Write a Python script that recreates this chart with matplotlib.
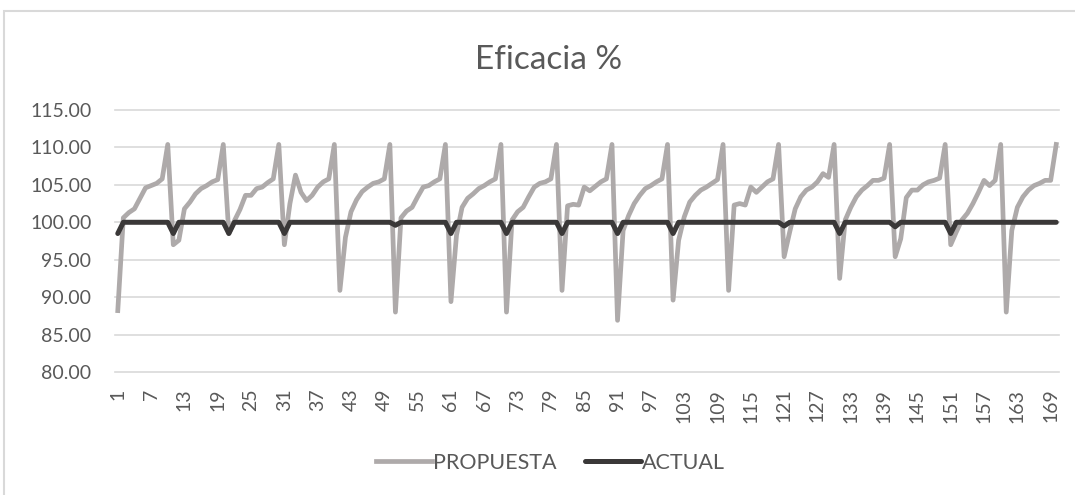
import matplotlib.pyplot as plt
import numpy as np
from matplotlib.patches import Rectangle

# Eficacia por periodo: propuesta vs situación actual
periodos = np.arange(1, 171)

propuesta = [
    88.2, 100.6, 101.3, 101.8, 103.2, 104.6, 104.9, 105.2, 105.8, 110.4,
    97.0, 97.6, 101.8, 102.7, 103.8, 104.5, 104.9, 105.4, 105.7, 110.4,
    98.5, 100.2, 101.7, 103.6, 103.6, 104.5, 104.7, 105.3, 105.8, 110.4,
    97.0, 102.5, 106.3, 104.0, 102.9, 103.6, 104.7, 105.4, 105.8, 110.4,
    90.9, 98.0, 101.4, 103.0, 104.1, 104.7, 105.2, 105.4, 105.8, 110.4,
    88.0, 100.6, 101.5, 102.0, 103.4, 104.7, 104.9, 105.4, 105.8, 110.4,
    89.4, 98.3, 102.0, 103.2, 103.8, 104.5, 104.9, 105.4, 105.8, 110.4,
    88.0, 100.3, 101.4, 102.0, 103.4, 104.7, 105.2, 105.4, 105.8, 110.4,
    90.9, 102.2, 102.4, 102.3, 104.7, 104.2, 104.8, 105.4, 105.8, 110.4,
    86.9, 98.9, 100.9, 102.5, 103.6, 104.5, 104.9, 105.4, 105.8, 110.4,
    89.6, 97.6, 100.7, 102.7, 103.6, 104.3, 104.7, 105.2, 105.7, 110.4,
    90.9, 102.3, 102.5, 102.3, 104.7, 104.0, 104.7, 105.4, 105.8, 110.4,
    95.4, 98.7, 101.8, 103.4, 104.3, 104.7, 105.4, 106.5, 106.0, 110.4,
    92.5, 100.3, 102.0, 103.4, 104.3, 104.9, 105.6, 105.6, 105.9, 110.4,
    95.4, 97.8, 103.3, 104.3, 104.3, 105.0, 105.4, 105.6, 105.9, 110.4,
    97.0, 98.7, 100.3, 101.2, 102.5, 104.0, 105.6, 104.9, 105.6, 110.4,
    88.0, 98.9, 102.0, 103.4, 104.3, 104.9, 105.2, 105.6, 105.6, 110.4,
]

actual = [100.0] * 170
caidas = {1: 98.5, 11: 98.5, 21: 98.5, 31: 98.5, 51: 99.6, 61: 98.5,
          71: 98.5, 81: 98.5, 91: 98.5, 101: 98.5, 121: 99.5, 131: 98.5,
          141: 99.4, 151: 98.5}
for p, v in caidas.items():
    actual[p - 1] = v

etiquetas_x = np.arange(1, 171, 6)
ticks_y = np.arange(80, 116, 5)

texto = "#595959"
gris = "#AEAAAA"
oscuro = "#3A3838"

plt.rcParams["font.family"] = ["Lato", "DejaVu Sans"]

fig = plt.figure(figsize=(10.75, 4.95), dpi=100)
fig.patches.append(Rectangle((4 / 1075, -0.1), 1.2, 1 - 11 / 495 + 0.1,
                             transform=fig.transFigure, fill=False,
                             edgecolor="#D9D9D9", linewidth=1.5))

ax = fig.add_axes([115 / 1075, 1 - 372 / 495, 944 / 1075, 262 / 495])
ax.plot(periodos, propuesta, color=gris, lw=3.4, label="PROPUESTA",
        solid_joinstyle="round", zorder=3)
ax.plot(periodos, actual, color=oscuro, lw=3.6, label="ACTUAL",
        solid_joinstyle="round", solid_capstyle="round", zorder=4)

ax.set_xlim(0.5, 170.5)
ax.set_ylim(80, 115)
ax.set_yticks(ticks_y)
ax.set_yticklabels([f"{v:.2f}" for v in ticks_y])
ax.set_xticks(etiquetas_x)
ax.set_xticklabels([str(v) for v in etiquetas_x], rotation=90)
ax.grid(axis="y", color="#D9D9D9", lw=1.2)
for gl in ax.get_ygridlines():
    gl.set_clip_on(False)
ax.set_axisbelow(True)
for s in ax.spines.values():
    s.set_visible(False)
ax.tick_params(length=0, labelsize=14, labelcolor=texto)
ax.tick_params(axis="y", pad=17)
ax.tick_params(axis="x", pad=12)

fig.text(0.51, 1 - 60 / 495, "Eficacia %", ha="center", va="center",
         fontsize=24, color=texto)

fig.legend(loc="center", bbox_to_anchor=(0.512, 1 - 463 / 495), ncol=2,
           frameon=False, fontsize=15.5, labelcolor=texto, handlelength=2.6,
           handletextpad=0.05, columnspacing=1.3)

fig.savefig("out.png", dpi=100)
